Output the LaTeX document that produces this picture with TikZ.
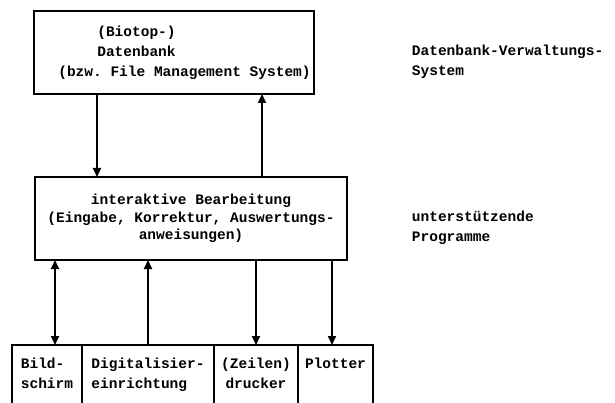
\documentclass[tikz,border=0pt]{standalone}
\usepackage{fontspec}
\setmonofont{Liberation Mono}
\usetikzlibrary{arrows.meta,positioning}

\begin{document}
\begin{tikzpicture}[x=1pt,y=-1pt,
  box/.style={draw,line width=1.5pt,outer sep=0pt,inner sep=0pt,align=center,font=\ttfamily\bfseries\fontsize{14.5}{20}\selectfont},
  dev/.style={box,anchor=north west,minimum height=90pt,text depth=60pt,inner ysep=13pt},
  note/.style={align=left,anchor=north west,inner sep=0pt,font=\ttfamily\bfseries\fontsize{14.5}{20.5}\selectfont},
  >={Triangle[length=9pt,width=8pt]}, line width=1.8pt]
\useasboundingbox (0,0) rectangle (615,403);
\clip (0,0) rectangle (615,403);
\node[box,anchor=north west,minimum width=280pt,minimum height=83pt,align=left] (db) at (34,11)
  {\hspace*{60pt}(Biotop-)\\ \hspace*{60pt}Datenbank\\ \hspace*{21pt}(bzw. File Management System)};
\node[box,anchor=north west,minimum width=312pt,minimum height=83pt,font=\ttfamily\bfseries\fontsize{14.5}{17.5}\selectfont] (ia) at (35,177)
  {interaktive Bearbeitung\\ (Eingabe, Korrektur, Auswertungs-\\ anweisungen)};
\node[dev,minimum width=70pt,align=left] (bs) at (12,345) {Bild-\\schirm};
\node[dev,minimum width=132pt,align=left,right=0pt of bs.north east,anchor=north west] (dg) {Digitalisier-\\einrichtung};
\node[dev,minimum width=84pt,right=0pt of dg.north east,anchor=north west] (zd) {(Zeilen)\\drucker};
\node[dev,minimum width=75pt,right=0pt of zd.north east,anchor=north west] (pl) {Plotter};
\node[note] (dbv) at (411,44) {Datenbank-Verwaltungs-\\System};
\node[note] (up) at (411,210) {unterstützende\\Programme};
\draw[->] ([xshift=63pt]db.south west) -- ([xshift=62pt]ia.north west);
\draw[<-] ([xshift=-52pt]db.south east) -- ([xshift=-85pt]ia.north east);
\draw[<->] ([xshift=20pt]ia.south west) -- ([xshift=43pt]bs.north west);
\draw[->] (dg.north) -- (dg.north |- ia.south);
\draw[->] (ia.south -| zd.north) -- (zd.north);
\draw[->] ([xshift=-3.5pt]ia.south -| pl.north) -- ([xshift=-3.5pt]pl.north);
\end{tikzpicture}
\end{document}
